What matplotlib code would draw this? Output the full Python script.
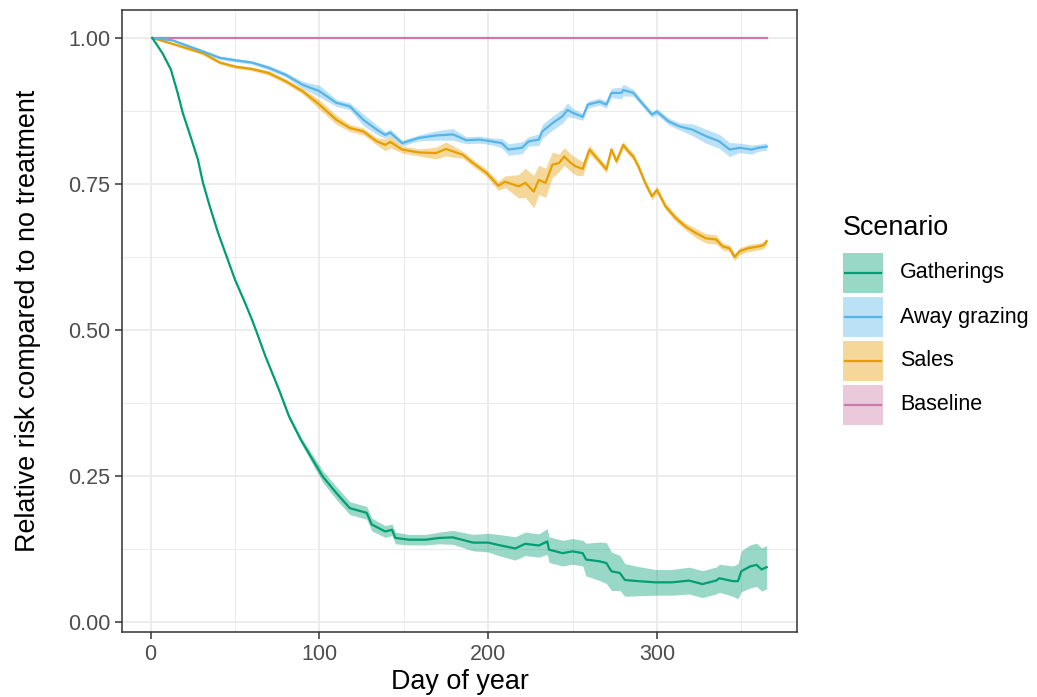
import matplotlib
matplotlib.use("Agg")
import numpy as np
from matplotlib import pyplot as plt
from matplotlib.patches import Rectangle
from matplotlib.lines import Line2D
from matplotlib.ticker import MultipleLocator

plt.rcParams['font.family'] = ['Liberation Sans', 'DejaVu Sans']

# Gatherings
gath_days = [1, 7, 12, 16, 19, 23, 28, 31, 35, 40,
             45, 50, 56, 60, 63, 68, 76, 82, 89, 96,
             102, 110, 118, 128, 131, 139, 143, 145, 153, 163,
             171, 179, 191, 200, 206, 216, 222, 230, 235, 236,
             244, 250, 256, 258, 266, 270, 273, 278, 281, 289,
             299, 309, 319, 327, 335, 337, 345, 348, 350, 355,
             359, 362, 365]
gath_vals = [1.0, 0.974, 0.946, 0.906, 0.872, 0.837, 0.792, 0.752, 0.712, 0.666,
             0.626, 0.586, 0.546, 0.518, 0.495, 0.455, 0.398, 0.352, 0.312, 0.278,
             0.249, 0.221, 0.195, 0.187, 0.167, 0.155, 0.158, 0.144, 0.141, 0.141,
             0.144, 0.145, 0.136, 0.136, 0.132, 0.126, 0.134, 0.131, 0.138, 0.124,
             0.118, 0.121, 0.118, 0.107, 0.104, 0.101, 0.087, 0.084, 0.072, 0.070,
             0.068, 0.068, 0.071, 0.065, 0.071, 0.075, 0.070, 0.070, 0.087, 0.095,
             0.098, 0.090, 0.094]
gath_hw = [0.0, 0.002, 0.002, 0.002, 0.002, 0.002, 0.002, 0.002, 0.002, 0.002,
           0.002, 0.002, 0.002, 0.002, 0.002, 0.002, 0.003, 0.004, 0.005, 0.008,
           0.010, 0.011, 0.011, 0.011, 0.011, 0.010, 0.010, 0.010, 0.009, 0.009,
           0.010, 0.012, 0.014, 0.016, 0.018, 0.020, 0.020, 0.020, 0.022, 0.022,
           0.022, 0.022, 0.022, 0.028, 0.033, 0.035, 0.033, 0.030, 0.028, 0.025,
           0.022, 0.022, 0.023, 0.023, 0.023, 0.024, 0.026, 0.030, 0.035, 0.037,
           0.037, 0.037, 0.037]

# Away grazing
away_days = [1, 13, 31, 41, 50, 60, 70, 80, 90, 100,
             110, 118, 126, 134, 139, 142, 149, 159, 169, 179,
             187, 195, 202, 208, 212, 220, 224, 230, 232, 238,
             244, 247, 250, 256, 259, 266, 270, 273, 279, 280,
             286, 291, 297, 300, 307, 313, 321, 329, 337, 343,
             349, 356, 360, 365]
away_vals = [1.0, 0.996, 0.977, 0.966, 0.962, 0.958, 0.949, 0.937, 0.920, 0.909,
             0.889, 0.883, 0.860, 0.843, 0.834, 0.838, 0.820, 0.829, 0.833, 0.835,
             0.825, 0.826, 0.823, 0.820, 0.809, 0.812, 0.823, 0.826, 0.840, 0.854,
             0.866, 0.877, 0.872, 0.865, 0.886, 0.891, 0.886, 0.906, 0.906, 0.911,
             0.906, 0.889, 0.869, 0.874, 0.857, 0.849, 0.843, 0.832, 0.823, 0.809,
             0.812, 0.809, 0.812, 0.814]
away_hw = [0.0, 0.002, 0.003, 0.003, 0.003, 0.003, 0.004, 0.004, 0.006, 0.010,
           0.006, 0.006, 0.010, 0.008, 0.006, 0.006, 0.005, 0.005, 0.008, 0.010,
           0.006, 0.006, 0.006, 0.008, 0.010, 0.010, 0.008, 0.010, 0.012, 0.012,
           0.012, 0.012, 0.008, 0.006, 0.006, 0.006, 0.006, 0.008, 0.010, 0.010,
           0.006, 0.005, 0.005, 0.005, 0.006, 0.006, 0.010, 0.012, 0.012, 0.012,
           0.008, 0.008, 0.006, 0.006]

# Sales
sales_days = [1, 13, 31, 41, 50, 60, 70, 80, 90, 100,
              110, 118, 126, 134, 139, 142, 149, 159, 169, 175,
              179, 185, 191, 199, 206, 210, 218, 222, 227, 230,
              234, 238, 242, 245, 249, 252, 256, 260, 266, 270,
              273, 276, 280, 283, 286, 289, 293, 297, 300, 305,
              311, 317, 323, 329, 335, 339, 343, 346, 349, 354,
              360, 363, 365]
sales_vals = [1.0, 0.99, 0.974, 0.958, 0.951, 0.947, 0.940, 0.926, 0.909, 0.886,
              0.860, 0.846, 0.840, 0.823, 0.817, 0.822, 0.809, 0.804, 0.803, 0.810,
              0.806, 0.800, 0.786, 0.769, 0.747, 0.754, 0.746, 0.752, 0.737, 0.757,
              0.752, 0.783, 0.786, 0.797, 0.786, 0.780, 0.776, 0.809, 0.789, 0.775,
              0.809, 0.789, 0.817, 0.806, 0.797, 0.780, 0.752, 0.729, 0.740, 0.712,
              0.692, 0.677, 0.666, 0.657, 0.655, 0.643, 0.640, 0.625, 0.635, 0.640,
              0.643, 0.645, 0.652]
sales_hw = [0.0, 0.002, 0.003, 0.003, 0.003, 0.003, 0.004, 0.004, 0.005, 0.008,
            0.008, 0.006, 0.006, 0.006, 0.010, 0.010, 0.006, 0.006, 0.010, 0.012,
            0.010, 0.006, 0.006, 0.006, 0.008, 0.010, 0.020, 0.025, 0.028, 0.025,
            0.025, 0.022, 0.015, 0.015, 0.015, 0.015, 0.012, 0.008, 0.006, 0.006,
            0.006, 0.006, 0.006, 0.006, 0.006, 0.006, 0.006, 0.006, 0.006, 0.006,
            0.006, 0.006, 0.008, 0.008, 0.008, 0.006, 0.006, 0.006, 0.006, 0.006,
            0.006, 0.006, 0.006]

# Baseline
base_days = [1, 365]
base_vals = [1.0, 1.0]
base_hw = [0.0, 0.0]

labels = ["Gatherings", "Away grazing", "Sales", "Baseline"]
colors = ["#009E73", "#56B4E9", "#E69F00", "#CC79A7"]
series = [(gath_days, gath_vals, gath_hw),
          (away_days, away_vals, away_hw),
          (sales_days, sales_vals, sales_hw),
          (base_days, base_vals, base_hw)]

W, H = 1037, 697
fig = plt.figure(figsize=(W / 100, H / 100), dpi=100)
ax = fig.add_axes([0.1176, 0.0933, 0.651, 0.8924])

for (d, v, hw), c in zip(series[::-1], colors[::-1]):
    d = np.array(d); v = np.array(v); hw = np.array(hw)
    ax.fill_between(d, v - hw, v + hw, color=c, alpha=0.4, linewidth=0)
    ax.plot(d, v, color=c, lw=1.6)

ax.set_xlim(-17, 383)
ax.set_ylim(-0.017, 1.048)
ax.set_xticks([0, 100, 200, 300])
ax.set_yticks([0, 0.25, 0.5, 0.75, 1.0])
ax.set_yticklabels(["0.00", "0.25", "0.50", "0.75", "1.00"])
ax.xaxis.set_minor_locator(MultipleLocator(50))
ax.yaxis.set_minor_locator(MultipleLocator(0.125))
ax.grid(which='major', color='#EBEBEB', lw=1.3)
ax.grid(which='minor', color='#EBEBEB', lw=0.7)
ax.set_axisbelow(True)
ax.tick_params(which='major', labelsize=15.5, labelcolor='#4D4D4D', color='#333333', length=5, width=1.1)
ax.tick_params(which='minor', length=0)
for s in ax.spines.values():
    s.set_color('#333333')
    s.set_linewidth(1.1)
ax.set_xlabel("Day of year", fontsize=19.4, labelpad=3)
ax.set_ylabel("Relative risk compared to no treatment", fontsize=19.4, labelpad=19)

# legend drawn by hand (ggplot style square keys)
def fx(px): return px / W
def fy(py): return 1 - py / H

fig.text(fx(843), fy(235), "Scenario", fontsize=19.4, va='baseline', ha='left')
for i, (lab, c) in enumerate(zip(labels, colors)):
    top = 253 + 44 * i
    fig.add_artist(Rectangle((fx(843), fy(top + 40)), 40 / W, 40 / H, transform=fig.transFigure,
                             facecolor=c, alpha=0.4, edgecolor='none'))
    fig.add_artist(Line2D([fx(845), fx(881)], [fy(top + 20)] * 2, transform=fig.transFigure,
                          color=c, lw=1.6))
    fig.text(fx(900), fy(top + 20), lab, fontsize=15.5, va='center', ha='left')

fig.savefig("out.png", dpi=100)
